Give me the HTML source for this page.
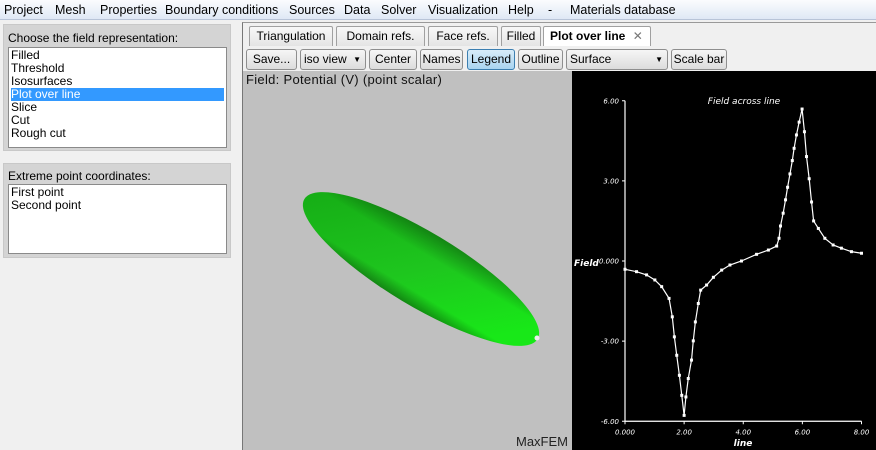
<!DOCTYPE html>
<html><head><meta charset="utf-8">
<style>
*{box-sizing:border-box;margin:0;padding:0}
body{width:876px;height:450px;overflow:hidden;background:#f0f0f0;font-family:"Liberation Sans",sans-serif;font-size:12px;color:#000;position:relative}
.abs{position:absolute}
#menu{left:0;top:0;width:876px;height:20px;background:linear-gradient(#fbfcfe,#dfe8f5);border-bottom:1px solid #b8c4d8}
#menu span{position:absolute;top:3px;font-size:12.5px}
.group{background:#d4d4d4;border:1px solid #c8c8c8}
.list{background:#fff;border:1px solid #8a8a8a;font-size:12px;line-height:13px;padding:1px 2px}
.tab{top:26px;height:20px;border:1px solid #a0a0a0;border-bottom:none;background:linear-gradient(#f8f8f8,#e4e4e4);font-size:12px;text-align:center;line-height:18px;border-radius:2px 2px 0 0}
.btn{top:49px;height:21px;border:1px solid #8e8e8e;border-radius:3px;background:linear-gradient(#f6f6f6,#dcdcdc);font-size:12px;line-height:19px;text-align:center}
.combo{text-align:left;padding-left:3px}
.combo:after{content:"▼";position:absolute;right:4px;top:0;font-size:8px}
</style></head><body>
<div id="menu" class="abs">
<span style="left:4px">Project</span>
<span style="left:55px">Mesh</span>
<span style="left:100px">Properties</span>
<span style="left:165px">Boundary conditions</span>
<span style="left:289px">Sources</span>
<span style="left:344px">Data</span>
<span style="left:381px">Solver</span>
<span style="left:428px">Visualization</span>
<span style="left:508px">Help</span>
<span style="left:548px">-</span>
<span style="left:570px">Materials database</span>
</div>

<div class="abs group" style="left:3px;top:24px;width:228px;height:127px">
<div class="abs" style="left:4px;top:6px;font-size:12px">Choose the field representation:</div>
<div class="abs list" style="left:4px;top:22px;width:219px;height:101px">
<div>Filled</div>
<div>Threshold</div>
<div>Isosurfaces</div>
<div style="background:#3399ff;color:#fff">Plot over line</div>
<div>Slice</div>
<div>Cut</div>
<div>Rough cut</div>
</div></div>

<div class="abs group" style="left:3px;top:163px;width:228px;height:95px">
<div class="abs" style="left:4px;top:5px;font-size:12px">Extreme point coordinates:</div>
<div class="abs list" style="left:4px;top:20px;width:219px;height:70px">
<div>First point</div>
<div>Second point</div>
</div></div>

<div class="abs" style="left:242px;top:22px;width:634px;height:428px;border-left:1px solid #777;border-top:1px solid #999"></div>
<div class="abs tab" style="left:249px;width:84px">Triangulation</div>
<div class="abs tab" style="left:336px;width:89px">Domain refs.</div>
<div class="abs tab" style="left:428px;width:70px">Face refs.</div>
<div class="abs tab" style="left:501px;width:40px">Filled</div>
<div class="abs tab" style="left:543px;width:108px;background:#fff;font-weight:bold;text-align:left;padding-left:6px">Plot over line <span style="font-weight:normal;color:#777;margin-left:4px">✕</span></div>

<div class="abs btn" style="left:246px;width:51px">Save...</div>
<div class="abs btn combo" style="left:300px;width:66px">iso view</div>
<div class="abs btn" style="left:369px;width:48px">Center</div>
<div class="abs btn" style="left:420px;width:43px">Names</div>
<div class="abs btn" style="left:467px;width:48px;background:linear-gradient(#d8ecf9,#a9d4f0);border-color:#3c7fb1">Legend</div>
<div class="abs btn" style="left:518px;width:45px">Outline</div>
<div class="abs btn combo" style="left:566px;width:102px">Surface</div>
<div class="abs btn" style="left:671px;width:56px">Scale bar</div>

<div class="abs" style="left:243px;top:71px;width:329px;height:379px;background:#c0c0c0">
<div class="abs" style="left:3px;top:1px;font-size:13px;color:#111;letter-spacing:0.3px">Field: Potential (V) (point scalar)</div>
<svg class="abs" style="left:0;top:0" width="329" height="379">
<defs><linearGradient id="g" x1="0" y1="0" x2="1" y2="0.3"><stop offset="0" stop-color="#14a814"/><stop offset="0.6" stop-color="#1ec61e"/><stop offset="1" stop-color="#18e818"/></linearGradient>
<linearGradient id="g2" x1="0" y1="0" x2="0" y2="1"><stop offset="0" stop-color="#000" stop-opacity="0.3"/><stop offset="0.3" stop-color="#000" stop-opacity="0"/><stop offset="0.8" stop-color="#000" stop-opacity="0"/><stop offset="1" stop-color="#000" stop-opacity="0.35"/></linearGradient></defs>
<g transform="translate(178,198) rotate(31)">
<ellipse rx="136" ry="37" fill="url(#g)"/>
<ellipse rx="136" ry="37" fill="url(#g2)"/>
</g>
<circle cx="294" cy="267" r="2.5" fill="#eee"/>
</svg>
<div class="abs" style="right:4px;bottom:1px;font-size:13px;color:#222">MaxFEM</div>
</div>

<svg class="abs" id="plot" style="left:572px;top:71px;background:#000" width="304" height="379"></svg>
<script>
const xTicks=[0,2,4,6,8];
const xTickLabels=["0.000","2.00","4.00","6.00","8.00"];
const yTicks=[6,3,0,-3,-6];
const yTickLabels=["6.00","3.00","0.000","-3.00","-6.00"];
const xs=[0,0.39,0.73,1.01,1.24,1.49,1.6,1.67,1.75,1.84,1.92,2.0,2.06,2.14,2.25,2.31,2.38,2.48,2.56,2.76,2.99,3.27,3.55,3.94,4.45,4.85,5.13,5.21,5.26,5.35,5.43,5.5,5.58,5.66,5.72,5.8,5.89,5.99,6.07,6.14,6.23,6.31,6.38,6.54,6.76,7.04,7.32,7.66,8];
const field=[-0.31,-0.4,-0.52,-0.71,-0.96,-1.4,-2.09,-2.84,-3.53,-4.28,-5.03,-5.78,-5.09,-4.4,-3.71,-2.99,-2.28,-1.59,-1.09,-0.9,-0.61,-0.34,-0.15,0,0.25,0.41,0.56,0.85,1.31,1.79,2.29,2.76,3.26,3.76,4.22,4.72,5.2,5.69,4.84,3.91,3.08,2.21,1.5,1.22,0.85,0.6,0.48,0.35,0.29];
const svg=document.getElementById('plot');
const NS='http://www.w3.org/2000/svg';
const X=v=>53+v*(289.5-53)/8;
const Y=v=>190-v*(350-29.5)/12;
function mk(t,a){const e=document.createElementNS(NS,t);for(const k in a)e.setAttribute(k,a[k]);svg.appendChild(e);return e;}
const ax=mk('path',{d:`M${X(0)},${Y(6)}V${Y(-6)}H${X(8)}`,stroke:'#fff','stroke-width':1.2,fill:'none'});


const ts='font-family:"DejaVu Sans",sans-serif;font-style:italic;font-size:7px;fill:#fff';
yTicks.forEach((v,i)=>{
 const l=mk('line',{x1:X(0)-3,x2:X(0),y1:Y(v),y2:Y(v),stroke:'#fff'});
 
 
 const t=mk('text',{x:X(0)-6,y:Y(v)+2.5,'text-anchor':'end',style:ts});t.textContent=yTickLabels[i];
 
 
});
xTicks.forEach((v,i)=>{
 const l=mk('line',{x1:X(v),x2:X(v),y1:Y(-6),y2:Y(-6)+3,stroke:'#fff'});
 
 
 const t=mk('text',{x:X(v),y:Y(-6)+13,'text-anchor':'middle',style:ts});t.textContent=xTickLabels[i];
 
 
});
const ls='font-family:"DejaVu Sans",sans-serif;font-style:italic;font-size:9px;fill:#fff';
let t=mk('text',{x:172,y:33,'text-anchor':'middle',style:ls});t.textContent='Field across line';


t=mk('text',{x:2,y:195,style:ls+';font-weight:bold'});t.textContent='Field';


t=mk('text',{x:171,y:375,'text-anchor':'middle',style:ls+';font-weight:bold'});t.textContent='line';


const line=mk('polyline',{points:xs.map((x,i)=>X(x)+','+Y(field[i])).join(' '),stroke:'#fff','stroke-width':1.2,fill:'none'});


xs.forEach((x,i)=>{
 const r=mk('rect',{x:X(x)-1.5,y:Y(field[i])-1.5,width:3,height:3,fill:'#fff'});
 
 
});
</script>
</body></html>
